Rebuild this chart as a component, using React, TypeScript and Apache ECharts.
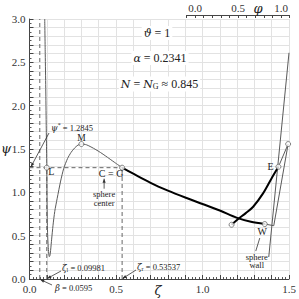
import React, { useEffect, useRef } from "react";
import * as echarts from "echarts";

// ---- data ----
const xTickLabels = ["0.0", "0.5", "1.0", "1.5"];
const yTickLabels = ["0.0", "0.5", "1.0", "1.5", "2.0", "2.5", "3.0"];
const phiTickLabels = ["0.0", "0.5", "1.0"];

const beta = 0.0595;
const zetaL = 0.09981;
const zetaR = 0.53537;
const psiStar = 1.2845;

// thin curve psi(zeta), left part up to C=G
const thinCurve: [number, number][] = [
  [0.088, 3.0], [0.091, 2.6], [0.094, 2.2], [0.0965, 1.8], [0.0985, 1.5],
  [0.09981, 1.2845], [0.1005, 1.05], [0.1015, 0.85], [0.103, 0.65], [0.105, 0.5],
  [0.108, 0.38], [0.111, 0.3], [0.1145, 0.258], [0.118, 0.27], [0.122, 0.33],
  [0.128, 0.46], [0.136, 0.62], [0.146, 0.78], [0.16, 0.93], [0.18, 1.13],
  [0.198, 1.277], [0.22, 1.39], [0.24, 1.46], [0.26, 1.51], [0.28, 1.545],
  [0.30, 1.557], [0.33, 1.548], [0.37, 1.508], [0.41, 1.46], [0.45, 1.405],
  [0.49, 1.348], [0.53537, 1.2845],
];

// thick branch from C=G to W
const thickCG_W: [number, number][] = [
  [0.53537, 1.2845], [0.6, 1.215], [0.7, 1.11], [0.8, 1.02], [0.9, 0.94],
  [1.0, 0.865], [1.1, 0.79], [1.2, 0.705], [1.28, 0.66], [1.36, 0.634],
];

// thick branch rising to E
const thickE: [number, number][] = [
  [1.168, 0.626], [1.206, 0.692], [1.25, 0.76], [1.293, 0.834], [1.35, 0.988],
  [1.399, 1.161], [1.439, 1.295],
];

const lineA: [number, number][] = [[1.5, 2.61], [1.383, 0.254]];
const lineB: [number, number][] = [[1.495, 1.557], [1.439, 1.295]];
const lineC: [number, number][] = [[1.495, 1.557], [1.412, 0.615]];
const lineD: [number, number][] = [[1.36, 0.634], [1.412, 0.615]];

const ptL: [number, number] = [zetaL, psiStar];
const ptM: [number, number] = [0.30, 1.557];
const ptCG: [number, number] = [zetaR, psiStar];
const ptE: [number, number] = [1.439, 1.295];
const ptR: [number, number] = [1.495, 1.557];
const ptW: [number, number] = [1.36, 0.634];
const ptS: [number, number] = [1.168, 0.626];
const markerPts = [ptL, ptM, ptCG, ptE, ptR, ptW, ptS];

const SERIF = "Liberation Serif";
const SERIF2 = "DejaVu Serif";
const THIN = "#5a5a5a";
const DASH = "#666";

function fmtHalf(v: number, labels: string[], step: number) {
  const k = v / step;
  if (Math.abs(k - Math.round(k)) < 1e-6 && Math.round(k) >= 0 && Math.round(k) < labels.length) {
    return labels[Math.round(k)];
  }
  return "";
}

export default function App() {
  const ref = useRef<HTMLDivElement>(null);
  useEffect(() => {
    if (!ref.current) return;
    const chart = echarts.init(ref.current, undefined, { renderer: "svg" });
    const thinLine = (data: [number, number][], color = THIN, width = 1, z = 3) => ({
      type: "line",
      data,
      showSymbol: false,
      symbol: "none",
      lineStyle: { color, width },
      z,
      silent: true,
    });
    const dashed = (data: [number, number][]) => ({
      type: "line",
      data,
      symbol: "none",
      lineStyle: { color: DASH, width: 1, type: [4, 3] },
      z: 2,
      silent: true,
    });
    const axisLbl = { margin: 4, color: "#333", fontFamily: SERIF, fontSize: 11 };
    chart.setOption({
      animation: false,
      textStyle: { fontFamily: SERIF },
      grid: [
        { left: 29.5, top: 19, width: 259.5, height: 260 },
        { left: 186.4, top: 15, width: 103.2, height: 10 },
      ],
      xAxis: [
        {
          type: "value", gridIndex: 0, min: 0, max: 1.5, interval: 0.1,
          axisLine: { show: true, lineStyle: { color: "#444", width: 1 } },
          axisTick: { show: true, inside: true, length: 4, lineStyle: { color: "#444" } },
          minorTick: { show: true, splitNumber: 5, length: 2, lineStyle: { color: "#555" } },
          splitLine: { show: true, lineStyle: { color: "#e2e2e2", width: 1 } },
          axisLabel: { ...axisLbl, formatter: (v: number) => fmtHalf(v, xTickLabels, 0.5) },
        },
        {
          type: "value", gridIndex: 1, position: "top", min: -0.1, max: 1.1, interval: 0.1,
          axisLine: { show: true, onZero: false, lineStyle: { color: "#444", width: 1 } },
          axisTick: { show: true, inside: true, length: 3, lineStyle: { color: "#444" } },
          splitLine: { show: false },
          axisLabel: { ...axisLbl, margin: 2, formatter: (v: number) => fmtHalf(v, phiTickLabels, 0.5) },
        },
      ],
      yAxis: [
        {
          type: "value", gridIndex: 0, min: 0, max: 3, interval: 0.1,
          axisLine: { show: true, lineStyle: { color: "#444", width: 1 } },
          axisTick: { show: true, inside: true, length: 4, lineStyle: { color: "#444" } },
          minorTick: { show: true, splitNumber: 2, length: 2, lineStyle: { color: "#555" } },
          splitLine: { show: true, lineStyle: { color: "#e2e2e2", width: 1 } },
          axisLabel: { ...axisLbl, formatter: (v: number) => fmtHalf(v, yTickLabels, 0.5) },
        },
        { type: "value", gridIndex: 1, show: false, min: 0, max: 1 },
      ],
      series: [
        dashed([[beta, 0], [beta, 3]]),
        dashed([[zetaL, 0], [zetaL, psiStar]]),
        dashed([[zetaR, 0], [zetaR, psiStar]]),
        dashed([[0, psiStar], [zetaR, psiStar]]),
        { ...thinLine(thinCurve), smooth: 0.25 },
        { ...thinLine(thickCG_W, "#000", 2, 4), smooth: 0.3 },
        { ...thinLine(thickE, "#000", 2, 4), smooth: 0.3 },
        thinLine(lineA),
        thinLine(lineB),
        thinLine(lineC),
        thinLine(lineD),
        {
          type: "scatter",
          data: markerPts,
          symbol: "circle",
          symbolSize: 5,
          itemStyle: { color: "#fff", borderColor: "#666", borderWidth: 1 },
          z: 6,
          silent: true,
        },
      ],
    });

    const p = (pt: [number, number]) => chart.convertToPixel({ gridIndex: 0 }, pt) as number[];
    const txt = (text: string, x: number, y: number, size = 10, align = "center", italic = false, fam = SERIF) => ({
      type: "text",
      z: 20,
      style: {
        text, x, y, align, verticalAlign: "middle",
        font: `${italic ? "italic " : ""}${size}px ${fam}`, fill: "#222",
      },
    });
    const arrow = (x1: number, y1: number, x2: number, y2: number, head = true) => {
      const els: any[] = [
        { type: "line", z: 20, shape: { x1, y1, x2, y2 }, style: { stroke: "#333", lineWidth: 0.8 } },
      ];
      if (head) {
        const a = Math.atan2(y2 - y1, x2 - x1);
        const L = 4, W = 1.6;
        const bx = x2 - L * Math.cos(a), by = y2 - L * Math.sin(a);
        els.push({
          type: "polygon", z: 20,
          shape: { points: [[x2, y2], [bx - W * Math.sin(a), by + W * Math.cos(a)], [bx + W * Math.sin(a), by - W * Math.cos(a)]] },
          style: { fill: "#333" },
        });
      }
      return els;
    };

    const L = p(ptL), M = p(ptM), CG = p(ptCG), E = p(ptE), W = p(ptW);
    const ax0 = p([0, psiStar]);
    const bz = p([beta, 0]), lz = p([zetaL, 0]), rz = p([zetaR, 0]);
    const y15 = p([0, 1.5]);
    const rich = {
      i: { fontFamily: SERIF2, fontStyle: "italic", fontSize: 11, fill: "#222" },
      n: { fontFamily: SERIF, fontSize: 12, fill: "#222" },
      s: { fontFamily: SERIF, fontSize: 8, fill: "#222", padding: [5, 0, 0, 0] },
      si: { fontFamily: SERIF2, fontStyle: "italic", fontSize: 8.5, fill: "#222" },
      sn: { fontFamily: SERIF, fontSize: 8.5, fill: "#222" },
      ss: { fontFamily: SERIF, fontSize: 6, fill: "#222", padding: [4, 0, 0, 0] },
      sp: { fontFamily: SERIF, fontSize: 6, fill: "#222", padding: [0, 0, 5, 0] },
    };
    const richTxt = (text: string, x: number, y: number, align = "center", bg = false) => ({
      type: "text",
      z: 20,
      style: {
        text, x, y, align, verticalAlign: "middle", rich,
        ...(bg ? { backgroundColor: "#fff", padding: [1, 2] } : {}),
      },
    });

    const graphic: any[] = [
      // parameter texts
      richTxt("{i|ϑ}{n| = 1}", 157, 33, "center", true),
      richTxt("{i|α}{n| = 0.2341}", 160, 58, "center", true),
      richTxt("{i|N}{n| = }{i|N}{s|G}{n| ≈ 0.845}", 159.5, 84, "center", true),
      // axis names
      txt("ψ", 6, y15[1] - 1, 13, "center", true, SERIF2),
      txt("ζ", 158, 290, 13, "center", true, SERIF2),
      txt("φ", 258, 8, 13, "center", true, SERIF2),
      // point labels
      txt("M", M[0], M[1] - 6.5, 9.5),
      txt("L", L[0] + 4.5, L[1] + 4, 10),
      txt("C = G", CG[0] - 11, CG[1] + 6, 10),
      txt("E", E[0] - 8, E[1] - 0.5, 10),
      txt("W", W[0] - 2.5, W[1] + 7.5, 10),
      // psi* annotation
      richTxt("{si|ψ}{sp|*}{sn| = 1.2845}", 51, 127.5, "left"),
      ...arrow(49, 133, ax0[0] + 1.5, ax0[1] - 1),
      // zeta_l annotation
      richTxt("{si|ζ}{ss|l}{sn| = 0.09981}", 62, 268, "left"),
      ...arrow(61, 271, lz[0] + 0.5, lz[1] - 0.5),
      // beta annotation
      richTxt("{si|β}{sn| = 0.0595}", 55, 287.5, "left"),
      ...arrow(52, 285, bz[0] + 0.5, bz[1] + 0.5),
      // zeta_r annotation
      richTxt("{si|ζ}{ss|r}{sn| = 0.53537}", 137, 267, "left"),
      ...arrow(136, 270, rz[0] + 0.5, rz[1] - 0.5),
      // sphere center
      ...arrow(CG[0] - 18, CG[1] + 21, CG[0] - 18, CG[1] + 11),
      txt("sphere", CG[0] - 18, CG[1] + 26, 8.5),
      txt("center", CG[0] - 18, CG[1] + 35, 8.5),
      // sphere wall
      ...arrow(W[0] - 9, W[1] + 27, W[0] - 5, W[1] + 14, false),
      txt("sphere", W[0] - 8, W[1] + 32.5, 8.5),
      txt("wall", W[0] - 8, W[1] + 41, 8.5),
    ];
    chart.setOption({ graphic });
    return () => chart.dispose();
  }, []);
  return (
    <div
      ref={ref}
      style={{ position: "fixed", left: 0, top: 0, width: 299, height: 299, background: "#fff" }}
    />
  );
}
